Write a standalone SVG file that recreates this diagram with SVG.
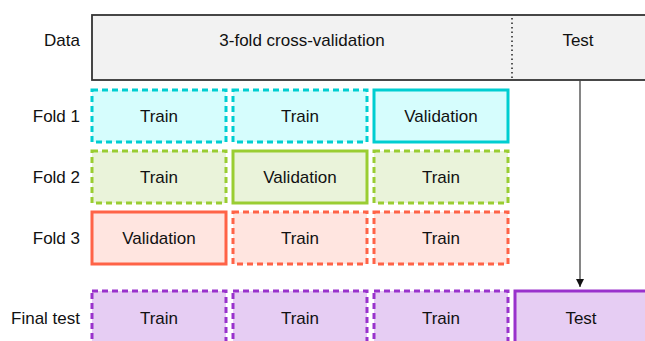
<svg xmlns="http://www.w3.org/2000/svg" width="645" height="341" viewBox="0 0 645 341">
<style>
text{font-family:"Liberation Sans",Arial,sans-serif;font-size:17px;fill:#111;dominant-baseline:central}
.c{text-anchor:middle}
.l{text-anchor:end}
.d{stroke-dasharray:6 4}
.s,.d{stroke-width:3}
.cy{stroke:#00CED1;fill:#D6FDFD}
.gr{stroke:#9ACD32;fill:#EAF3DA}
.rd{stroke:#FF6347;fill:#FFE5E0}
.pu{stroke:#9932CC;fill:#E6CDF3}
</style>
<defs>
<marker id="ah" markerWidth="8" markerHeight="8" refX="8" refY="4" orient="auto" markerUnits="userSpaceOnUse">
<path d="M0,0 L8,4 L0,8 z" fill="#111"/>
</marker>
</defs>
<g id="labels">
<text class="l" x="80" y="40">Data</text>
<text class="l" x="80" y="116">Fold 1</text>
<text class="l" x="80" y="177">Fold 2</text>
<text class="l" x="80" y="238">Fold 3</text>
<text class="l" x="80" y="318">Final test</text>
</g>
<g id="data">
<rect x="92" y="15" width="560" height="65" fill="#F2F2F2" stroke="#333" stroke-width="1.8"/>
<line x1="512" y1="18" x2="512" y2="79" stroke="#222" stroke-width="1.5" stroke-dasharray="1.5 3"/>
<text class="c" x="302" y="40">3-fold cross-validation</text>
<text class="c" x="578" y="40">Test</text>
</g>
<g id="fold1">
<rect class="cy d" x="92" y="90" width="134" height="52"/><text class="c" x="159" y="116">Train</text>
<rect class="cy d" x="233" y="90" width="134" height="52"/><text class="c" x="300" y="116">Train</text>
<rect class="cy s" x="374" y="90" width="134" height="52"/><text class="c" x="441" y="116">Validation</text>
</g>
<g id="fold2">
<rect class="gr d" x="92" y="151" width="134" height="52"/><text class="c" x="159" y="177">Train</text>
<rect class="gr s" x="233" y="151" width="134" height="52"/><text class="c" x="300" y="177">Validation</text>
<rect class="gr d" x="374" y="151" width="134" height="52"/><text class="c" x="441" y="177">Train</text>
</g>
<g id="fold3">
<rect class="rd s" x="92" y="212" width="134" height="52"/><text class="c" x="159" y="238">Validation</text>
<rect class="rd d" x="233" y="212" width="134" height="52"/><text class="c" x="300" y="238">Train</text>
<rect class="rd d" x="374" y="212" width="134" height="52"/><text class="c" x="441" y="238">Train</text>
</g>
<g id="final">
<rect class="pu d" x="92" y="291" width="134" height="60"/><text class="c" x="159" y="318">Train</text>
<rect class="pu d" x="233" y="291" width="134" height="60"/><text class="c" x="300" y="318">Train</text>
<rect class="pu d" x="374" y="291" width="134" height="60"/><text class="c" x="441" y="318">Train</text>
<rect class="pu s" x="515" y="291" width="140" height="60"/><text class="c" x="581" y="318">Test</text>
</g>
<g id="connectors">
<line x1="580" y1="80" x2="580" y2="287" stroke="#444" stroke-width="1.3" marker-end="url(#ah)"/>
</g>
</svg>
